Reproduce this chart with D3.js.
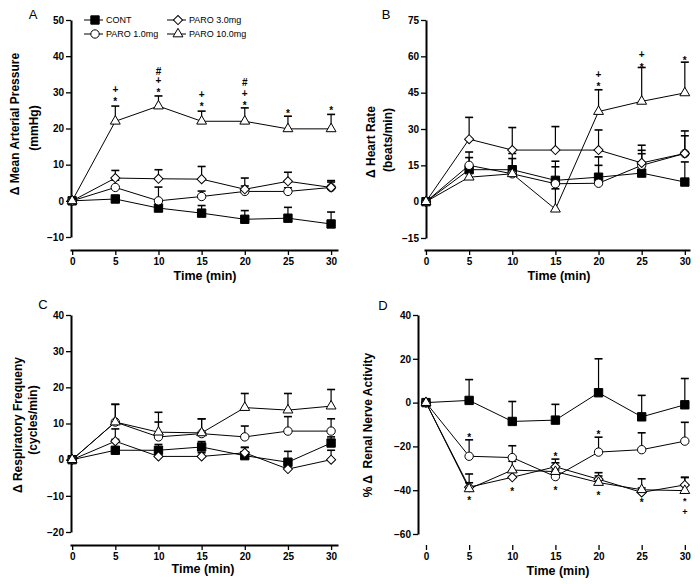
<!DOCTYPE html>
<html lang="en">
<head>
    <meta charset="utf-8">
    <title>Paroxetine responses</title>
    <script src="https://d3js.org/d3.v7.min.js"></script>
    <style>
        body { margin: 0; background: #fff; }
        text { font-family: "Liberation Sans", Arial, sans-serif; }
    </style>
</head>
<body>
<div id="chart"></div>
<script>
    // time points and groups
    const times = [0, 5, 10, 15, 20, 25, 30];
    const groups = ["CONT", "PARO 1.0mg", "PARO 3.0mg", "PARO 10.0mg"];

    // A: mean arterial pressure
    const mapCont = [0, 0.5, -2.0, -3.4, -5.1, -4.8, -6.4];
    const mapContErr = [0, 1.0, 0.6, 2.1, 2.4, 3.0, 3.3];
    const mapParo1 = [0, 3.7, 0, 1.2, 2.6, 2.6, 3.7];
    const mapParo1Err = [0, 2.0, 3.8, 1.5, 1.5, 1.0, 1.9];
    const mapParo3 = [0, 6.3, 6.1, 6.0, 3.2, 5.4, 3.7];
    const mapParo3Err = [0, 2.1, 2.5, 3.5, 3.1, 2.5, 1.5];
    const mapParo10 = [0, 22.0, 26.2, 22.0, 22.0, 19.9, 19.9];
    const mapParo10Err = [0, 4.2, 2.8, 2.8, 3.7, 3.5, 4.0];
    const mapNotes = [[5, 30.6, "+"], [5, 28.2, "*"], [10, 35.9, "#"], [10, 33.1, "+"], [10, 30.8, "*"],
        [15, 29.4, "+"], [15, 26.9, "*"], [20, 32.7, "#"], [20, 29.6, "+"], [20, 27.1, "*"],
        [25, 24.8, "*"], [30, 25.7, "*"]];

    // B: heart rate
    const hrCont = [0, 13.2, 13.2, 8.8, 10.1, 11.8, 8.1];
    const hrContErr = [0, 5.0, 4.6, 5.6, 4.9, 8.0, 8.3];
    const hrParo1 = [0, 15.0, 11.5, 7.4, 7.6, 15.0, 19.9];
    const hrParo1Err = [0, 5.5, 8.4, 9.3, 10.9, 8.3, 7.3];
    const hrParo3 = [0, 25.8, 21.3, 21.3, 21.3, 16.0, 19.9];
    const hrParo3Err = [0, 9.0, 9.3, 9.7, 8.3, 5.2, 9.3];
    const hrParo10 = [0, 10.1, 11.5, -3.1, 37.2, 41.4, 44.9];
    const hrParo10Err = [0, 3.0, 3.0, 8.4, 9.0, 14.0, 12.7];
    const hrNotes = [[20, 52.5, "+"], [20, 48.6, "*"], [25, 60.8, "+"], [25, 56.7, "*"], [30, 59.4, "*"]];

    // C: respiratory frequency
    const rfCont = [0, 2.6, 2.6, 3.5, 1.1, -0.7, 4.6];
    const rfContErr = [0, 3.0, 1.6, 1.5, 2.3, 3.0, 1.7];
    const rfParo1 = [0, 10.4, 6.3, 7.2, 6.3, 7.9, 7.9];
    const rfParo1Err = [0, 4.9, 4.1, 4.1, 3.0, 4.0, 3.4];
    const rfParo3 = [0, 5.1, 0.9, 0.9, 1.9, -2.6, 0];
    const rfParo3Err = [0, 3.4, 1.0, 1.0, 1.5, 1.0, 2.6];
    const rfParo10 = [0, 10.4, 7.6, 7.4, 14.4, 13.7, 14.8];
    const rfParo10Err = [0, 4.9, 5.5, 3.9, 3.9, 4.6, 4.6];
    const rfNotes = [];

    // D: renal nerve activity
    const rsnaCont = [0, 1.0, -8.6, -8.0, 4.5, -6.5, -1.0];
    const rsnaContErr = [0, 9.5, 9.1, 7.2, 15.5, 9.8, 12.0];
    const rsnaParo1 = [0, -24.5, -25.1, -33.8, -22.6, -21.5, -17.6];
    const rsnaParo1Err = [0, 7.5, 5.4, 3.0, 6.8, 7.7, 8.6];
    const rsnaParo3 = [0, -38.6, -34.1, -29.3, -35.0, -41.0, -37.6];
    const rsnaParo3Err = [0, 2.0, 3.0, 3.5, 1.5, 2.0, 3.5];
    const rsnaParo10 = [0, -39.4, -30.8, -31.5, -36.5, -39.8, -40.2];
    const rsnaParo10Err = [0, 6.8, 4.0, 4.0, 4.5, 5.0, 6.0];
    const rsnaNotes = [[5, -14.6, "*"], [5, -43.3, "*"], [10, -39.5, "*"], [15, -23.3, "*"], [15, -39, "*"],
        [20, -13.3, "*"], [20, -41.3, "*"], [25, -44.5, "*"], [30, -43.8, "*", 9], [30, -50.0, "+", 9]];

    const xTicks = [0, 5, 10, 15, 20, 25, 30];

    const panels = [
        {
            letter: "A", letterPos: [33, 14],
            values: [mapCont, mapParo1, mapParo3, mapParo10],
            errors: [mapContErr, mapParo1Err, mapParo3Err, mapParo10Err],
            notes: mapNotes,
            yTicks: [-10, 0, 10, 20, 30, 40, 50],
            xDomain: [-0.25, 30.8], xRange: [70, 338],
            yRange: [237, 20], yAxisX: 71, xAxisY: 250, xLine: true,
            labels: [["Δ Mean Arterial Pressure", 15, 124], ["(mmHg)", 34, 128]],
            title: [205, 280]
        },
        {
            letter: "B", letterPos: [386, 14],
            values: [hrCont, hrParo1, hrParo3, hrParo10],
            errors: [hrContErr, hrParo1Err, hrParo3Err, hrParo10Err],
            notes: hrNotes,
            yTicks: [-15, 0, 15, 30, 45, 60, 75],
            xDomain: [-0.23, 30.6], xRange: [424, 690],
            yRange: [238, 20], yAxisX: 426, xAxisY: 250, xLine: true,
            labels: [["Δ Heart Rate", 371, 142], ["(beats/min)", 388, 140]],
            title: [559, 280]
        },
        {
            letter: "C", letterPos: [43, 304],
            values: [rfCont, rfParo1, rfParo3, rfParo10],
            errors: [rfContErr, rfParo1Err, rfParo3Err, rfParo10Err],
            notes: rfNotes,
            yTicks: [-20, -10, 0, 10, 20, 30, 40],
            xDomain: [-0.25, 30.8], xRange: [70, 338],
            yRange: [532, 315], yAxisX: 71, xAxisY: 545, xLine: true,
            labels: [["Δ Respiratory Frequeny", 18, 425], ["(cycles/min)", 33, 420]],
            title: [203, 573]
        },
        {
            letter: "D", letterPos: [383, 305],
            values: [rsnaCont, rsnaParo1, rsnaParo3, rsnaParo10],
            errors: [rsnaContErr, rsnaParo1Err, rsnaParo3Err, rsnaParo10Err],
            notes: rsnaNotes,
            yTicks: [-60, -40, -20, 0, 20, 40],
            xDomain: [-0.23, 30.6], xRange: [424, 690],
            yRange: [534, 315], yAxisX: 418, xAxisY: 545, xLine: false,
            labels: [["% Δ  Renal Nerve Activity", 368, 425]],
            title: [558, 575]
        }
    ];

    const svg = d3.select("#chart")
        .append("svg")
        .attr("width", 700)
        .attr("height", 584);

    // marker shapes: filled square, open circle, open diamond, open triangle
    function marker(sel, k) {
        const shapes = [
            d3.symbol(d3.symbolSquare, 70),
            d3.symbol(d3.symbolCircle, 55),
            d3.symbol(d3.symbolSquare, 42),
            d3.symbol(d3.symbolTriangle, 42)
        ];
        sel.attr("d", shapes[k]())
            .attr("fill", k === 0 ? "#000" : "#fff")
            .attr("stroke", "#000")
            .attr("stroke-width", 1);
        return sel;
    }

    const noteDy = {"*": "0.62em", "+": "0.33em", "#": "0.36em"};

    panels.forEach(p => {
        const x = d3.scaleLinear().domain(p.xDomain).range(p.xRange);
        const y = d3.scaleLinear()
            .domain([p.yTicks[0], p.yTicks[p.yTicks.length - 1]])
            .range(p.yRange);
        const g = svg.append("g");

        // y axis
        const ya = g.append("g")
            .attr("transform", `translate(${p.yAxisX},0)`)
            .call(d3.axisLeft(y).tickValues(p.yTicks).tickSize(5).tickSizeOuter(0).tickPadding(2));
        // x axis
        const xa = g.append("g")
            .attr("transform", `translate(0,${p.xAxisY})`)
            .call(d3.axisBottom(x).tickValues(xTicks).tickSize(5).tickSizeOuter(0).tickPadding(3));
        if (!p.xLine) xa.select(".domain").remove();

        [ya, xa].forEach(a => {
            a.attr("font-family", null).attr("font-size", null);
            a.select(".domain").attr("stroke-width", 2);
            a.selectAll(".tick line").attr("stroke-width", 1.3);
            a.selectAll(".tick text")
                .attr("font-size", 10)
                .attr("font-weight", "bold");
        });

        // axis titles
        g.append("text")
            .attr("x", p.title[0]).attr("y", p.title[1])
            .attr("text-anchor", "middle")
            .attr("font-size", 12.5)
            .attr("font-weight", "bold")
            .text("Time (min)");

        p.labels.forEach(l => {
            g.append("text")
                .attr("transform", `translate(${l[1]},${l[2]}) rotate(-90)`)
                .attr("text-anchor", "middle")
                .attr("dy", "0.35em")
                .attr("font-size", 12)
                .attr("font-weight", "bold")
                .attr("xml:space", "preserve")
                .text(l[0]);
        });

        g.append("text")
            .attr("x", p.letterPos[0]).attr("y", p.letterPos[1])
            .attr("dy", "0.35em")
            .attr("text-anchor", "middle")
            .attr("font-size", 13)
            .text(p.letter);

        // error bars (upper only)
        p.values.forEach((vals, k) => {
            const errs = p.errors[k];
            times.forEach((t, i) => {
                if (!errs[i]) return;
                const top = y(vals[i] + errs[i]);
                g.append("line")
                    .attr("x1", x(t)).attr("x2", x(t))
                    .attr("y1", y(vals[i])).attr("y2", top)
                    .attr("stroke", "#000").attr("stroke-width", 1.2);
                g.append("line")
                    .attr("x1", x(t) - 4).attr("x2", x(t) + 4)
                    .attr("y1", top).attr("y2", top)
                    .attr("stroke", "#000").attr("stroke-width", 1.6);
            });
        });

        // lines
        const line = d3.line().x((d, i) => x(times[i])).y(d => y(d));
        p.values.forEach(vals => {
            g.append("path")
                .datum(vals)
                .attr("fill", "none")
                .attr("stroke", "#000")
                .attr("stroke-width", 1)
                .attr("d", line);
        });

        // markers
        p.values.forEach((vals, k) => {
            vals.forEach((v, i) => {
                marker(g.append("path"), k)
                    .attr("transform", `translate(${x(times[i])},${y(v)})` + (k === 2 ? " rotate(45)" : ""));
            });
        });

        // significance marks
        p.notes.forEach(n => {
            g.append("text")
                .attr("x", x(n[0])).attr("y", y(n[1]))
                .attr("dy", noteDy[n[2]])
                .attr("text-anchor", "middle")
                .attr("font-size", n[3] || 10)
                .attr("font-weight", "bold")
                .text(n[2]);
        });
    });

    // legend (panel A)
    const legendPos = [[95, 20], [95, 34], [178, 20], [178, 34]];
    groups.forEach((name, k) => {
        const [lx, ly] = legendPos[k];
        svg.append("line")
            .attr("x1", lx - 11).attr("x2", lx + 8)
            .attr("y1", ly).attr("y2", ly)
            .attr("stroke", "#000").attr("stroke-width", 1);
        marker(svg.append("path"), k)
            .attr("transform", `translate(${lx},${ly})` + (k === 2 ? " rotate(45)" : ""));
        svg.append("text")
            .attr("x", lx + 11).attr("y", ly)
            .attr("dy", "0.35em")
            .attr("font-size", 9)
            .text(name);
    });
</script>
</body>
</html>
